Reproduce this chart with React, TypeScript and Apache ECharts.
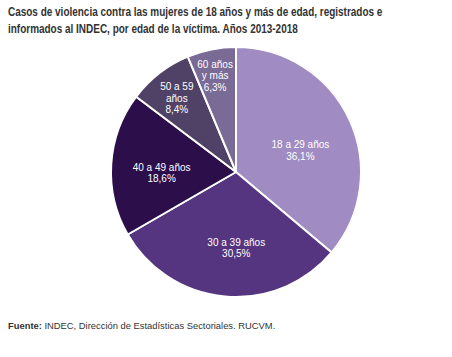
import React, { useEffect, useRef } from "react";
import * as echarts from "echarts";

const categories = ["18 a 29 años", "30 a 39 años", "40 a 49 años", "50 a 59\naños", "60 años\ny más"];
const values = [36.1, 30.5, 18.6, 8.4, 6.3];
const colors = ["#a08cc2", "#55357f", "#2b0e4a", "#4f4266", "#7a6a96"];
const labelShift = [[5, 6], [6, 11], [-9, 5], [-19, -22], [-8, -32]];

const titleLines = [
  "Casos de violencia contra las mujeres de 18 años y más de edad, registrados e",
  "informados al INDEC, por edad de la víctima. Años 2013-2018",
];
const sourceBold = "Fuente:";
const sourceText = " INDEC, Dirección de Estadísticas Sectoriales. RUCVM.";

const TITLE_FONT = "bold 12px 'Liberation Sans', Arial, sans-serif";

function measure(text: string, font: string): number {
  const c = document.createElement("canvas");
  const ctx = c.getContext("2d");
  if (!ctx) return 470;
  ctx.font = font;
  return ctx.measureText(text).width;
}

export default function App() {
  const ref = useRef<HTMLDivElement>(null);
  useEffect(() => {
    if (!ref.current) return;
    const chart = echarts.init(ref.current, null, { renderer: "svg" });
    const w = measure(titleLines[0], TITLE_FONT);
    const sx = w > 0 ? 375 / w : 0.8;
    chart.setOption({
      animation: false,
      backgroundColor: "#ffffff",
      graphic: [
        {
          type: "text",
          x: 8,
          y: 3,
          scaleX: sx,
          style: {
            text: titleLines.join("\n"),
            fontFamily: "'Liberation Sans', Arial, sans-serif",
            fontWeight: "bold",
            fontSize: 12,
            lineHeight: 17,
            fill: "#333333",
            textAlign: "left",
            textVerticalAlign: "top",
          },
        },
        {
          type: "text",
          left: 8,
          top: 321,
          style: {
            text: "{b|" + sourceBold + "}{n|" + sourceText + "}",
            rich: {
              b: { fontWeight: "bold", fontSize: 9.4, fontFamily: "'Liberation Sans', Arial, sans-serif", fill: "#333333" },
              n: { fontSize: 9.4, fontFamily: "'Liberation Sans', Arial, sans-serif", fill: "#333333" },
            },
          },
        },
      ],
      series: [
        {
          type: "pie",
          center: [236, 172],
          radius: [0, 125],
          startAngle: 90,
          clockwise: true,
          silent: true,
          itemStyle: { borderColor: "#ffffff", borderWidth: 2 },
          label: {
            show: true,
            position: "inside",
            color: "#ffffff",
            fontSize: 10,
            lineHeight: 11.5,
            fontFamily: "'Liberation Sans', Arial, sans-serif",
            formatter: (p: any) => p.name + "\n" + p.value.toFixed(1).replace(".", ",") + "%",
          },
          labelLayout: (p: any) => ({ dx: labelShift[p.dataIndex][0], dy: labelShift[p.dataIndex][1] }),
          data: categories.map((c, i) => ({ name: c, value: values[i], itemStyle: { color: colors[i] } })),
        },
      ],
    });
    return () => chart.dispose();
  }, []);
  return <div ref={ref} style={{ position: "fixed", left: 0, top: 0, width: 452, height: 357 }} />;
}
